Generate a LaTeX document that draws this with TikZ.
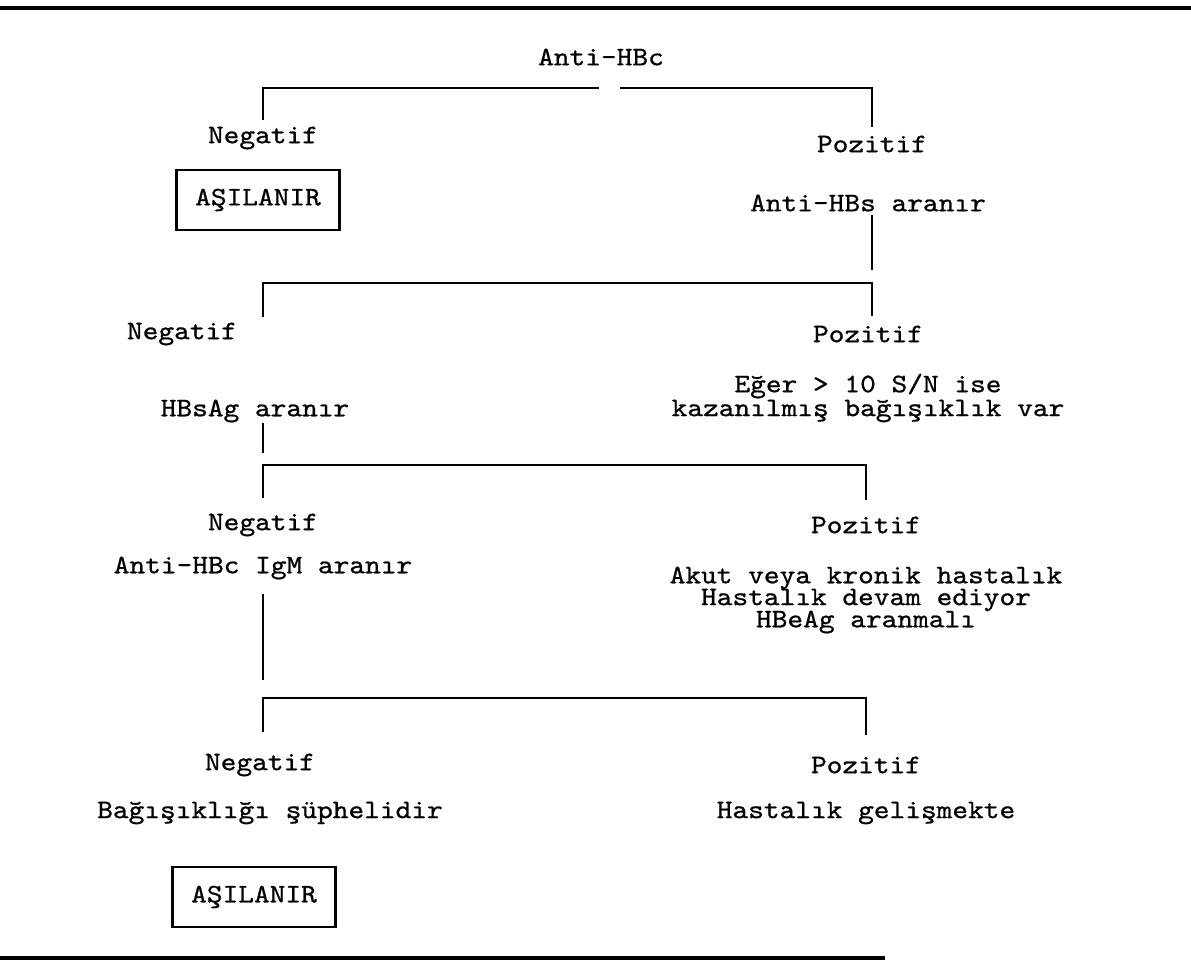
\documentclass[tikz,border=0pt]{standalone}
\usepackage{fontspec}
\setmonofont{lmmono10-regular.otf}[FakeStretch=1.12,FakeBold=0.8]
\begin{document}
\begin{tikzpicture}[x=0.1mm,y=-0.1mm,
    yazi/.style={font=\ttfamily\fontsize{7.6}{9}\selectfont, inner sep=0pt},
    kutu/.style={yazi, draw, line width=0.6pt, minimum width=163*0.1mm, minimum height=60*0.1mm},
    cizgi/.style={line width=0.6pt},
    kalin/.style={line width=1pt}]
        \useasboundingbox (0,0) rectangle (1191,967);
        % ust ve alt cizgiler
        \coordinate (ustA) at (0,8);
        \coordinate (ustB) at (1191,8);
        \coordinate (altA) at (0,958);
        \coordinate (altB) at (885,958);
        \draw[kalin] (ustA) -- (ustB);
        \draw[kalin] (altA) -- (altB);
        % 1. basamak
        \node[yazi] (antihbc) at (601,57) {Anti-HBc};
        \node[yazi] (neg1) at (263,138) {Negatif};
        \node[yazi] (poz1) at (872,144) {Pozitif};
        \node[kutu] (asi1) at (258,200) {AŞILANIR};
        \node[yazi] (antihbs) at (868,203) {Anti-HBs aranır};
        \coordinate (g1a) at (599,88);
        \coordinate (g1b) at (620,88);
        \draw[cizgi] (263,120) |- (g1a);
        \draw[cizgi] (872,127) |- (g1b);
        % 2. basamak
        \node[yazi] (neg2) at (182,334) {Negatif};
        \node[yazi] (poz2) at (868,334) {Pozitif};
        \node[yazi] (eger) at (868,386) {Eğer > 10 S/N ise};
        \node[yazi] (kazan) at (868,411) {kazanılmış bağışıklık var};
        \node[yazi] (hbsag) at (255,411) {HBsAg aranır};
        \coordinate (k2) at (872,283);
        \draw[cizgi] ([yshift=-3*0.1mm]antihbs.south -| k2) -- (872,270);
        \draw[cizgi] (263,317) |- (k2) -- (872,316);
        % 3. basamak
        \node[yazi] (neg3) at (263,525) {Negatif};
        \node[yazi] (poz3) at (866,525) {Pozitif};
        \node[yazi] (igm) at (263,568) {Anti-HBc IgM aranır};
        \node[yazi] (akut1) at (866,578) {Akut veya kronik hastalık};
        \node[yazi] (akut2) at (866,600) {Hastalık devam ediyor};
        \node[yazi] (akut3) at (866,622) {HBeAg aranmalı};
        \coordinate (k3) at (263,465);
        \draw[cizgi] (hbsag.south -| k3) -- (263,453);
        \draw[cizgi] (263,498) -- (k3) -| (866,500);
        % 4. basamak
        \node[yazi] (neg4) at (260,765) {Negatif};
        \node[yazi] (poz4) at (866,765) {Pozitif};
        \node[yazi] (supheli) at (270,813) {Bağışıklığı şüphelidir};
        \node[yazi] (gelisme) at (866,813) {Hastalık gelişmekte};
        \node[kutu] (asi2) at (254,897) {AŞILANIR};
        \coordinate (k4) at (263,698);
        \draw[cizgi] ([yshift=-14*0.1mm]igm.south) -- (263,680);
        \draw[cizgi] (263,732) -- (k4) -| (866,735);
    \end{tikzpicture}
\end{document}
